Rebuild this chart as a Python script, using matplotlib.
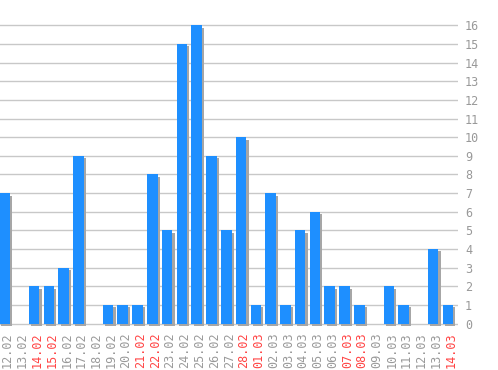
import numpy as np
import matplotlib
matplotlib.use('Agg')
from matplotlib import pyplot as plt

# daily counts, 12.02 - 14.03
days = ['12.02', '13.02', '14.02', '15.02', '16.02', '17.02', '18.02', '19.02',
        '20.02', '21.02', '22.02', '23.02', '24.02', '25.02', '26.02', '27.02',
        '28.02', '01.03', '02.03', '03.03', '04.03', '05.03', '06.03', '07.03',
        '08.03', '09.03', '10.03', '11.03', '12.03', '13.03', '14.03']
counts = [7, 0, 2, 2, 3, 9, 0, 1, 1, 1, 8, 5, 15, 16, 9, 5,
          10, 1, 7, 1, 5, 6, 2, 2, 1, 0, 2, 1, 0, 4, 1]
weekend = ['14.02', '15.02', '21.02', '22.02', '28.02', '01.03',
           '07.03', '08.03', '14.03']
yticks = list(range(0, 17))

fig = plt.figure(figsize=(4.98, 3.70), dpi=100)
fig.patch.set_facecolor('white')
ax = fig.add_axes([0.0, 1 - 325.5 / 370, 458 / 498, (325.5 - 10) / 370])

x = np.arange(len(days))
w = 0.72
# shadow first, offset right/down
ax.bar(x + 0.15, counts, width=w, bottom=-0.13,
       color='#a6a6a6', zorder=2, linewidth=0)
ax.bar(x, counts, width=w, color='#1e8fff', zorder=3, linewidth=0)

ax.set_xlim(-0.31, 30.68)
ax.set_ylim(-0.1, 16.82)
ax.set_yticks(yticks)
ax.yaxis.tick_right()
ax.grid(axis='y', color='#c8c8c8', linewidth=1, zorder=1)
for s in ax.spines.values():
    s.set_visible(False)

# labels sit a little right of the bar centres
ax.set_xticks(x + 0.2)
ax.set_xticklabels(days, rotation=90, family='DejaVu Sans Mono',
                   fontsize=8.5, color='#999999')
for lbl in ax.get_xticklabels():
    if lbl.get_text() in weekend:
        lbl.set_color('#ff4444')
ax.tick_params(axis='x', length=0, pad=5)
ax.tick_params(axis='y', length=0, pad=5, labelcolor='#999999',
               labelsize=8.5)
for lbl in ax.get_yticklabels():
    lbl.set_family('DejaVu Sans Mono')

fig.savefig('out.png', dpi=100, facecolor='white')
